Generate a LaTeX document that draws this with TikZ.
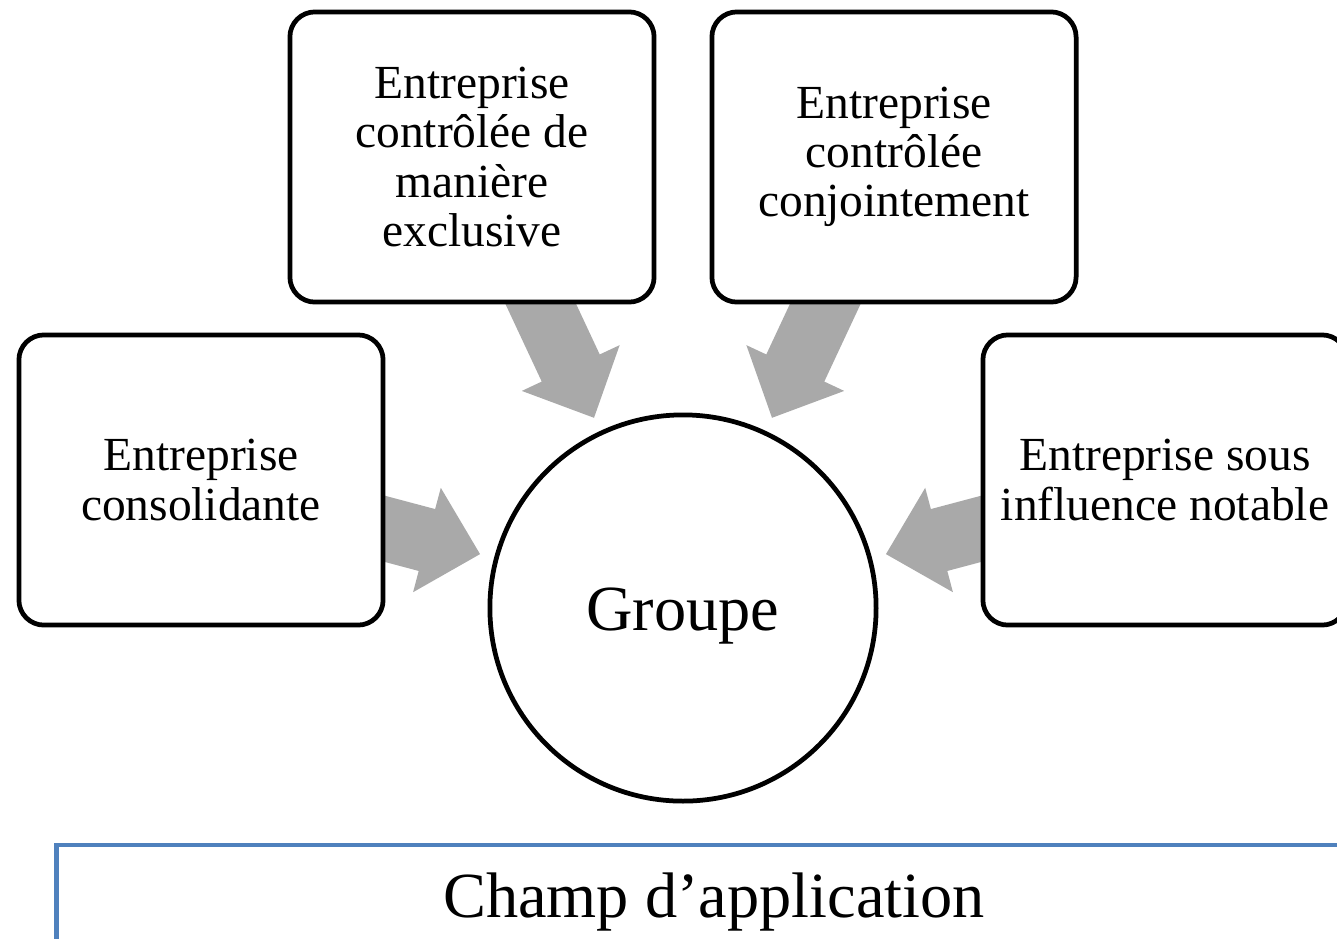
\documentclass[tikz,border=0pt]{standalone}
\usepackage{fontspec}
\setmainfont{Liberation Serif}
\usetikzlibrary{positioning,calc,backgrounds}
\definecolor{arrowgray}{RGB}{169,169,169}
\definecolor{scopeblue}{RGB}{79,129,189}

\begin{document}
\begin{tikzpicture}[x=0.01cm,y=0.01cm,
        entity/.style={rectangle,rounded corners=0.25cm,draw,line width=1.35pt,fill=white,
            minimum width=3.64cm,minimum height=2.9cm,inner sep=2pt,align=center,
            font=\fontsize{13.5}{14}\selectfont},
        blockarrow/.style={fill=arrowgray}]
        \useasboundingbox (0,0) rectangle (1337,938);

        \node[circle,draw,line width=1.35pt,fill=white,minimum size=3.86cm,
            text height=14.5pt,text depth=1.5pt,
            font=\fontsize{18.3}{20}\selectfont] (grp) at (683,330) {Groupe};
        \node[entity] (cons) at (201,458) {Entreprise\\consolidante};
        \node[entity] (excl) at (472,781) {Entreprise\\contrôlée de\\manière\\exclusive};
        \node[entity] (conj) at (894,781) {Entreprise\\contrôlée\\conjointement};
        \node[entity] (infl) at (1165,458) {Entreprise sous\\influence notable};

        \node[draw=scopeblue,line width=1.4pt,minimum width=13.15cm,minimum height=1.14cm,
            font=\fontsize{18.3}{20}\selectfont] (champ) at (714,36) {Champ d’application};

        \begin{scope}[on background layer]
        \foreach \src in {cons,excl,conj,infl}{
            \fill[blockarrow] let \p1=($(\src.center)-(grp.center)$), \n1={atan2(\y1,\x1)} in
                ($(grp.center)+(\n1:210)$) -- ($(grp.center)+(\n1+11.52:270.4)$)
                -- ($(grp.center)+(\n1+6.89:266.9)$) -- ($(grp.center)+(\n1+3.68:499)$)
                -- ($(grp.center)+(\n1-3.68:499)$) -- ($(grp.center)+(\n1-6.89:266.9)$)
                -- ($(grp.center)+(\n1-11.52:270.4)$) -- cycle;
        }
        \end{scope}
    \end{tikzpicture}
\end{document}
